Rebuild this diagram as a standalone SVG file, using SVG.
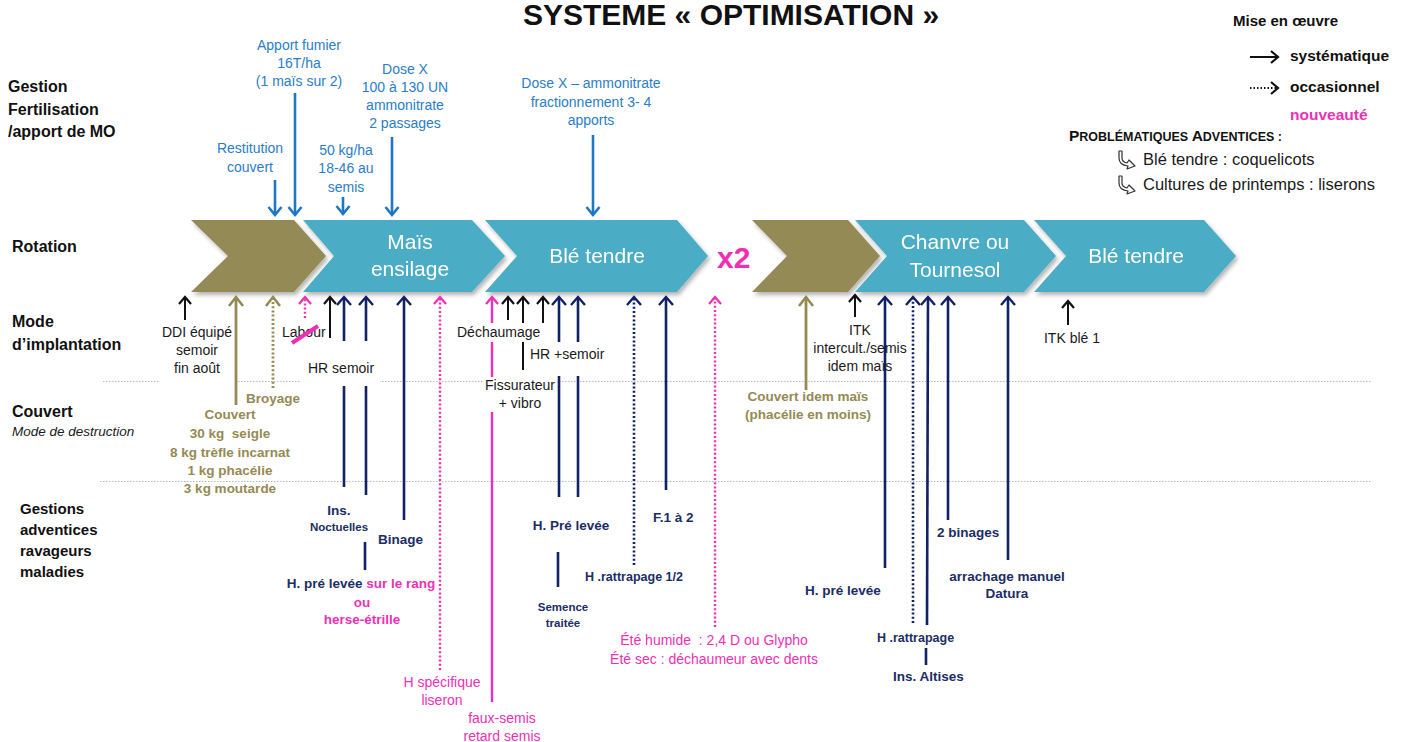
<svg xmlns="http://www.w3.org/2000/svg" width="1423" height="742" viewBox="0 0 1423 742">
<defs>
<style>
text{font-family:"Liberation Sans",Arial,sans-serif;}
.hdr{font-size:16px;font-weight:bold;fill:#111;}
.hdr2{font-size:15px;font-weight:bold;fill:#111;}
.chv{font-size:21px;fill:#fff;text-anchor:middle;}
.blu{font-size:14px;fill:#2A7DC8;text-anchor:middle;}
.blk{font-size:14px;fill:#1a1a1a;}
.blkc{font-size:14px;fill:#1a1a1a;text-anchor:middle;}
.olv{font-size:13.5px;font-weight:bold;fill:#958A52;text-anchor:middle;}
.nav{font-size:13.5px;font-weight:bold;fill:#1B2D66;}
.navs{font-size:12.5px;font-weight:bold;fill:#1B2D66;}
.navxs{font-size:11.5px;font-weight:bold;fill:#1B2D66;text-anchor:middle;}
.mag{fill:#EE30B4;}
.magr{font-size:14px;fill:#EE30B4;text-anchor:middle;}
.pre{white-space:pre;}
.teal{fill:#4BACC6;}
.olive{fill:#948A54;}
.guide{stroke:#b8b8b8;stroke-width:1;stroke-dasharray:1.5 1.5;fill:none;}
.ab{stroke:#111;stroke-width:2;fill:none;marker-end:url(#mk-b);}
.an{stroke:#0F2167;stroke-width:2.6;fill:none;marker-end:url(#mk-n);}
.and{stroke:#0F2167;stroke-width:2.6;fill:none;stroke-dasharray:2 2.2;marker-end:url(#mk-n);}
.ns{stroke:#0F2167;stroke-width:2.6;fill:none;}
.abl{stroke:#1F77C3;stroke-width:2.6;fill:none;marker-end:url(#mk-bl);}
.ao{stroke:#948A54;stroke-width:2.8;fill:none;marker-end:url(#mk-o);}
.aod{stroke:#948A54;stroke-width:2.8;fill:none;stroke-dasharray:2 2.2;marker-end:url(#mk-o);}
.am{stroke:#EE30B4;stroke-width:2.4;fill:none;marker-end:url(#mk-m);}
.amd{stroke:#EE30B4;stroke-width:2.4;fill:none;stroke-dasharray:2 2.2;marker-end:url(#mk-m);}
.wb{fill:#fff;}
</style>
<filter id="sh" x="-10%" y="-20%" width="130%" height="150%">
<feDropShadow dx="2" dy="3" stdDeviation="2" flood-color="#000" flood-opacity="0.3"/>
</filter>
<marker id="mk-b" viewBox="-12 -10 16 20" markerWidth="16" markerHeight="20" refX="0" refY="0" orient="auto" markerUnits="userSpaceOnUse"><path d="M-7,-6 L0,0 L-7,6" fill="none" stroke="#111" stroke-width="2.2"/></marker>
<marker id="mk-n" viewBox="-12 -10 16 20" markerWidth="16" markerHeight="20" refX="0" refY="0" orient="auto" markerUnits="userSpaceOnUse"><path d="M-8,-7 L0,0 L-8,7" fill="none" stroke="#0F2167" stroke-width="2.4"/></marker>
<marker id="mk-bl" viewBox="-12 -10 16 20" markerWidth="16" markerHeight="20" refX="0" refY="0" orient="auto" markerUnits="userSpaceOnUse"><path d="M-8,-6.5 L0,0 L-8,6.5" fill="none" stroke="#1F77C3" stroke-width="2.6"/></marker>
<marker id="mk-o" viewBox="-12 -10 16 20" markerWidth="16" markerHeight="20" refX="0" refY="0" orient="auto" markerUnits="userSpaceOnUse"><path d="M-9,-7 L0,0 L-9,7" fill="none" stroke="#948A54" stroke-width="2.6"/></marker>
<marker id="mk-m" viewBox="-12 -10 16 20" markerWidth="16" markerHeight="20" refX="0" refY="0" orient="auto" markerUnits="userSpaceOnUse"><path d="M-7,-6 L0,0 L-7,6" fill="none" stroke="#EE30B4" stroke-width="2.2"/></marker>
</defs>
<rect width="1423" height="742" fill="#fff"/>

<text x="731" y="25" text-anchor="middle" style="font-size:30px;font-weight:bold;fill:#111">SYSTEME « OPTIMISATION »</text>

<g id="row-headers">
<text class="hdr" x="8" y="92">Gestion</text>
<text class="hdr" x="8" y="115">Fertilisation</text>
<text class="hdr" x="8" y="137">/apport de MO</text>
<text class="hdr" x="12" y="252">Rotation</text>
<text class="hdr" x="12" y="327">Mode</text>
<text class="hdr" x="12" y="350">d’implantation</text>
<text class="hdr" x="12" y="417">Couvert</text>
<text x="12" y="436" style="font-size:13.5px;font-style:italic;fill:#1a1a1a">Mode de destruction</text>
<text class="hdr2" x="20" y="514">Gestions</text>
<text class="hdr2" x="20" y="535">adventices</text>
<text class="hdr2" x="20" y="556">ravageurs</text>
<text class="hdr2" x="20" y="577">maladies</text>
</g>

<g id="guides">
<line class="guide" x1="103" y1="381.5" x2="1372" y2="381.5"/>
<line class="guide" x1="100" y1="481.5" x2="1372" y2="481.5"/>
</g>

<g id="chevrons" filter="url(#sh)">
<g id="chev-couvert1"><polygon class="olive" points="191,220 294,220 326,256 294,292 191,292 228,256"/></g>
<g id="chev-mais"><polygon class="teal" points="303,220 472,220 505,256 472,292 303,292 334,256"/>
<text class="chv" x="410" y="249">Maïs</text><text class="chv" x="410" y="276">ensilage</text></g>
<g id="chev-ble1"><polygon class="teal" points="485,220 677,220 708,256 677,292 485,292 517,256"/>
<text class="chv" x="597" y="263">Blé tendre</text></g>
<g id="chev-couvert2"><polygon class="olive" points="752,220 848,220 880,256 848,292 752,292 787,256"/></g>
<g id="chev-chanvre"><polygon class="teal" points="855,220 1024,220 1056,256 1024,292 855,292 887,256"/>
<text class="chv" x="955" y="249">Chanvre ou</text><text class="chv" x="955" y="277">Tournesol</text></g>
<g id="chev-ble2"><polygon class="teal" points="1034,220 1204,220 1236,256 1204,292 1034,292 1066,256"/>
<text class="chv" x="1136" y="263">Blé tendre</text></g>
</g>
<g id="x2"><text x="717" y="268" style="font-size:30px;font-weight:bold;fill:#EE30B4">x2</text></g>

<g id="connectors">
<line class="abl" x1="275" y1="180" x2="275" y2="215"/>
<line class="abl" x1="295" y1="93" x2="295" y2="215"/>
<line class="abl" x1="343" y1="197" x2="343" y2="214"/>
<line class="abl" x1="392" y1="137" x2="392" y2="215"/>
<line class="abl" x1="593" y1="135" x2="593" y2="215"/>
<line class="ab" x1="185" y1="320" x2="185" y2="297"/>
<line class="ab" x1="330" y1="338" x2="330" y2="297"/>
<line class="ab" x1="508" y1="320" x2="508" y2="297"/>
<line class="ab" x1="523" y1="370" x2="523" y2="297"/>
<line class="ab" x1="543" y1="330" x2="543" y2="297"/>
<line class="ab" x1="855" y1="317" x2="855" y2="295"/>
<line class="ab" x1="1068" y1="325" x2="1068" y2="301"/>
<line class="ao" x1="236" y1="405" x2="236" y2="297"/>
<line class="aod" x1="273" y1="388" x2="273" y2="297"/>
<line class="ao" x1="806" y1="390" x2="806" y2="297"/>
<line class="amd" x1="305" y1="318" x2="305" y2="297"/>
<line class="amd" x1="440" y1="670" x2="440" y2="297"/>
<line class="am" x1="492" y1="702" x2="492" y2="297"/>
<line class="amd" x1="715" y1="627" x2="715" y2="297"/>
<line class="an" x1="344" y1="487" x2="344" y2="297"/>
<line class="an" x1="366" y1="495" x2="366" y2="297"/>
<line class="an" x1="404" y1="520" x2="404" y2="297"/>
<line class="an" x1="559" y1="497" x2="559" y2="297"/>
<line class="an" x1="578" y1="497" x2="578" y2="297"/>
<line class="and" x1="634" y1="565" x2="634" y2="297"/>
<line class="an" x1="666" y1="490" x2="666" y2="297"/>
<line class="an" x1="885" y1="568" x2="885" y2="297"/>
<line class="and" x1="913" y1="623" x2="913" y2="297"/>
<line class="an" x1="927" y1="625" x2="928" y2="297"/>
<line class="an" x1="948" y1="520" x2="948" y2="297"/>
<line class="an" x1="1008" y1="560" x2="1008" y2="297"/>
<line class="ns" x1="365" y1="542" x2="365" y2="570"/>
<line class="ns" x1="558" y1="552" x2="558" y2="587"/>
<line class="ns" x1="926" y1="648" x2="926" y2="665"/>
</g>

<g id="fertilisation-labels">
<g id="lbl-fumier"><text class="blu" x="299" y="50">Apport fumier</text><text class="blu" x="299" y="68">16T/ha</text><text class="blu" x="299" y="86">(1 maïs sur 2)</text></g>
<g id="lbl-restitution"><text class="blu" x="250" y="153">Restitution</text><text class="blu" x="250" y="172">couvert</text></g>
<g id="lbl-50kg"><text class="blu" x="346" y="155">50 kg/ha</text><text class="blu" x="346" y="173">18-46 au</text><text class="blu" x="346" y="192">semis</text></g>
<g id="lbl-dosex1"><text class="blu" x="405" y="74">Dose X</text><text class="blu" x="405" y="92">100 à 130 UN</text><text class="blu" x="405" y="110">ammonitrate</text><text class="blu" x="405" y="128">2 passages</text></g>
<g id="lbl-dosex2"><text class="blu" x="591" y="88">Dose X – ammonitrate</text><text class="blu" x="591" y="107">fractionnement 3- 4</text><text class="blu" x="591" y="125">apports</text></g>
</g>

<g id="implantation-labels">
<g id="lbl-ddi"><rect class="wb" x="160" y="323" width="74" height="62"/><text class="blkc" x="197" y="337">DDI équipé</text><text class="blkc" x="197" y="355">semoir</text><text class="blkc" x="197" y="373">fin août</text></g>
<g id="lbl-labour"><text class="blk" x="282" y="337">Labour</text><line x1="292" y1="343" x2="318" y2="326" stroke="#EE30B4" stroke-width="4"/></g>
<g id="lbl-hr-semoir"><rect class="wb" x="300" y="341" width="80" height="45"/><text class="blk" x="308" y="373">HR semoir</text></g>
<g id="lbl-hr-plus-semoir"><rect class="wb" x="545" y="342" width="62" height="34"/><rect class="wb" x="528" y="346" width="20" height="30"/><text class="blk" x="530" y="359">HR +semoir</text></g>
<g id="lbl-dechaumage"><rect class="wb" x="456" y="323" width="88" height="19"/><text class="blk" x="457" y="337">Déchaumage</text></g>
<g id="lbl-fissurateur"><rect class="wb" x="483" y="377" width="74" height="35"/><text class="blkc" x="520" y="390">Fissurateur</text><text class="blkc" x="520" y="408">+ vibro</text></g>
<g id="lbl-itk"><text class="blkc" x="860" y="335">ITK</text><text class="blkc" x="860" y="353">intercult./semis</text><text class="blkc" x="860" y="371">idem maïs</text></g>
<g id="lbl-itk-ble"><text class="blkc" x="1072" y="343">ITK blé 1</text></g>
</g>

<g id="couvert-labels">
<g id="lbl-broyage"><text class="olv" x="273" y="403">Broyage</text></g>
<g id="lbl-couvert1"><text class="olv" x="230" y="419">Couvert</text><text class="olv pre" x="230" y="438">30 kg  seigle</text><text class="olv" x="230" y="457">8 kg trèfle incarnat</text><text class="olv" x="230" y="475">1 kg phacélie</text><text class="olv" x="230" y="493">3 kg moutarde</text></g>
<g id="lbl-couvert2"><text class="olv" x="808" y="401">Couvert idem maïs</text><text class="olv" x="808" y="419">(phacélie en moins)</text></g>
</g>

<g id="adventices-labels">
<g id="lbl-ins-noct"><text class="nav" x="339" y="515" text-anchor="middle">Ins.</text><text class="navxs" x="339" y="531">Noctuelles</text></g>
<g id="lbl-binage"><text class="nav" x="378" y="544">Binage</text></g>
<g id="lbl-hpre-mais"><text class="nav" x="361" y="588" text-anchor="middle">H. pré levée <tspan class="mag">sur le rang</tspan></text><text class="nav mag" x="362" y="607" text-anchor="middle">ou</text><text class="nav mag" x="362" y="624" text-anchor="middle">herse-étrille</text></g>
<g id="lbl-hspec"><text class="magr" x="442" y="687">H spécifique</text><text class="magr" x="442" y="705">liseron</text></g>
<g id="lbl-fauxsemis"><text class="magr" x="502" y="723">faux-semis</text><text class="magr" x="502" y="741">retard semis</text></g>
<g id="lbl-hpre-ble"><text class="nav" x="571" y="530" text-anchor="middle">H. Pré levée</text></g>
<g id="lbl-semence"><text class="navxs" x="563" y="611">Semence</text><text class="navxs" x="563" y="627">traitée</text></g>
<g id="lbl-hratt12"><text class="navs" x="585" y="581">H .rattrapage 1/2</text></g>
<g id="lbl-f12"><text class="nav" x="653" y="522">F.1 à 2</text></g>
<g id="lbl-ete"><text class="magr pre" x="714" y="645">Été humide  : 2,4 D ou Glypho</text><text class="magr" x="714" y="664">Été sec : déchaumeur avec dents</text></g>
<g id="lbl-hpre-chanvre"><text class="nav" x="805" y="595">H. pré levée</text></g>
<g id="lbl-hratt"><text class="navs" x="877" y="642">H .rattrapage</text></g>
<g id="lbl-altises"><text class="nav" x="893" y="681">Ins. Altises</text></g>
<g id="lbl-2binages"><text class="nav" x="937" y="537">2 binages</text></g>
<g id="lbl-datura"><text class="nav" x="1007" y="581" text-anchor="middle">arrachage manuel</text><text class="nav" x="1007" y="598" text-anchor="middle">Datura</text></g>
</g>

<g id="legend">
<text x="1233" y="26" style="font-size:15px;font-weight:bold;fill:#111">Mise en œuvre</text>
<line x1="1250" y1="57" x2="1278" y2="57" stroke="#111" stroke-width="2" marker-end="url(#mk-b)"/>
<text x="1290" y="61" style="font-size:15.5px;font-weight:bold;fill:#111">systématique</text>
<line x1="1250" y1="88" x2="1278" y2="88" stroke="#111" stroke-width="2" stroke-dasharray="1.5 2" marker-end="url(#mk-b)"/>
<text x="1290" y="92" style="font-size:15.5px;font-weight:bold;fill:#111">occasionnel</text>
<text x="1290" y="120" style="font-size:15.5px;font-weight:bold;fill:#EE30B4">nouveauté</text>
<text x="1069" y="141" style="font-weight:bold;fill:#111;font-size:12.5px"><tspan style="font-size:15.5px">P</tspan>ROBLÉMATIQUES <tspan style="font-size:15.5px">A</tspan>DVENTICES :</text>
<g fill="none" stroke="#333" stroke-width="1.2" stroke-linejoin="round">
<path d="M1122,151 V158 Q1122,162 1127,163 L1129,160 L1135,166 L1127,169 L1128,166 Q1119,165 1119,158 V151 Z"/>
<path d="M1122,176 V183 Q1122,187 1127,188 L1129,185 L1135,191 L1127,194 L1128,191 Q1119,190 1119,183 V176 Z"/>
</g>
<text x="1143" y="165" style="font-size:16.5px;fill:#1a1a1a">Blé tendre : coquelicots</text>
<text x="1143" y="190" style="font-size:16.5px;fill:#1a1a1a">Cultures de printemps : liserons</text>
</g>
</svg>
